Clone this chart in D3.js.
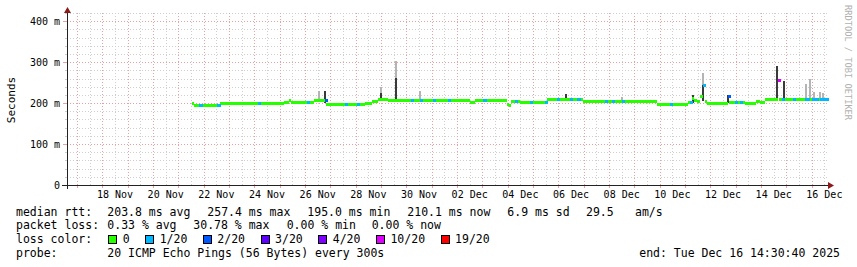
<html>
<head>
<meta charset="utf-8">
<title>smokeping - last 30 days</title>
<style>
  body { margin: 0; background: #fff; }
  svg text { font-family: "DejaVu Sans Mono", monospace; fill: #000; }
</style>
</head>
<body>
<div id="chart"></div>
<script src="https://d3js.org/d3.v7.min.js"></script>
<script>
// ---- data ----
var startTime = "2025-11-16 14:30:40";
var endTime = "2025-12-16 14:30:40";

// median rtt (ms), value holds from each time until the next one
var medianTimes = ["2025-11-21 13:00", "2025-11-21 15:00", "2025-11-22 15:30", "2025-11-25 04:00",
    "2025-11-25 09:00", "2025-11-25 11:00", "2025-11-26 08:30", "2025-11-26 20:00", "2025-11-27 12:00",
    "2025-11-28 09:00", "2025-11-28 15:30", "2025-11-28 21:00", "2025-11-29 07:00", "2025-12-02 12:00",
    "2025-12-02 17:00", "2025-12-03 23:00", "2025-12-04 01:00", "2025-12-04 03:00", "2025-12-04 12:00",
    "2025-12-05 13:00", "2025-12-06 23:00", "2025-12-09 21:30", "2025-12-11 03:00", "2025-12-11 06:30",
    "2025-12-11 08:30", "2025-12-11 11:30", "2025-12-11 14:00", "2025-12-11 17:00", "2025-12-11 19:00",
    "2025-12-11 21:00", "2025-12-12 17:00", "2025-12-12 18:00", "2025-12-13 09:00", "2025-12-13 19:00",
    "2025-12-13 23:00", "2025-12-14 04:00", "2025-12-14 16:00", "2025-12-14 17:00", "2025-12-16 14:30"];
var medianValues = [200, 195, 199, 201, 207, 201, 206, 196, 197.5, 200, 204, 210, 206, 201, 206, 197, 195,
    203, 201, 210, 203, 197, 201, 212, 207, 203, 215, 242, 204, 199, 217, 201, 198, 205, 202, 210, 254, 210, 210];

// samples with packet loss (pings lost out of 20)
var lossTimes = ["2025-11-21 20:00", "2025-11-22 13:00", "2025-11-24 03:00", "2025-11-26 02:00",
    "2025-11-26 19:00", "2025-11-27 14:00", "2025-11-28 01:00", "2025-11-30 04:00", "2025-11-30 13:00",
    "2025-12-01 01:00", "2025-12-01 15:00", "2025-12-03 01:00", "2025-12-04 07:00", "2025-12-04 21:00",
    "2025-12-05 11:00", "2025-12-05 23:00", "2025-12-06 11:00", "2025-12-06 18:00", "2025-12-07 20:00",
    "2025-12-08 03:00", "2025-12-08 12:00", "2025-12-10 10:00", "2025-12-11 05:00", "2025-12-11 17:00",
    "2025-12-12 17:00", "2025-12-12 23:00", "2025-12-13 04:00", "2025-12-14 16:00", "2025-12-14 20:00",
    "2025-12-15 06:00", "2025-12-15 18:00", "2025-12-15 19:00", "2025-12-16 00:00", "2025-12-16 03:00",
    "2025-12-16 04:00", "2025-12-16 08:00", "2025-12-16 09:00", "2025-12-16 10:00", "2025-12-16 12:00",
    "2025-12-16 13:00"];
var lossCounts = [1, 1, 1, 1, 2, 1, 1, 1, 1, 1, 1, 1, 1, 1, 1, 1, 1, 1, 1, 1, 1, 1, 1, 1, 2, 1, 1, 10, 1,
    1, 1, 1, 1, 1, 1, 1, 1, 1, 1, 1];

// smoke: spread of the single pings (ms); dense part low..mid, thin part mid..high
var smokeTimes = ["2025-11-26 13:00", "2025-11-26 19:00", "2025-11-29 00:00", "2025-11-29 14:00",
    "2025-11-30 13:00", "2025-12-06 07:00", "2025-12-08 12:00", "2025-12-11 08:00", "2025-12-11 17:00",
    "2025-12-12 17:00", "2025-12-14 15:00", "2025-12-14 22:00", "2025-12-15 19:00", "2025-12-15 22:00",
    "2025-12-16 02:00", "2025-12-16 08:00", "2025-12-16 11:00"];
var smokeLow = [205, 200, 206, 206, 206, 210, 203, 201, 205, 201, 210, 210, 210, 210, 210, 210, 210];
var smokeMid = [205, 229, 225, 262, 206, 222, 203, 220, 245, 220, 290, 254, 210, 210, 210, 210, 210];
var smokeHigh = [229, 229, 240, 302, 229, 222, 215, 220, 273, 220, 290, 254, 246, 259, 228, 227, 224];

// legend
var lossLevels = ["0", "1/20", "2/20", "3/20", "4/20", "10/20", "19/20"];
var lossColors = ["#26ff00", "#00b8ff", "#0059ff", "#5e00ff", "#7e00ff", "#dd00ff", "#ff0000"];

var yTickValues = [0, 100, 200, 300, 400];
var yTickLabels = ["0", "100 m", "200 m", "300 m", "400 m"];
var xTickLabels = ["18 Nov", "20 Nov", "22 Nov", "24 Nov", "26 Nov", "28 Nov", "30 Nov", "02 Dec",
    "04 Dec", "06 Dec", "08 Dec", "10 Dec", "12 Dec", "14 Dec", "16 Dec"];

// ---- drawing ----
var svg = d3.select("#chart").append("svg")
    .attr("width", 857)
    .attr("height", 267)
    .style("background", "#fff");

var parseTime = d3.timeParse("%Y-%m-%d %H:%M");
var parseFull = d3.timeParse("%Y-%m-%d %H:%M:%S");

var x = d3.scaleTime()
    .domain([parseFull(startTime), parseFull(endTime)])
    .range([67, 827]);
var y = d3.scaleLinear()
    .domain([0, 420])
    .range([185, 13]);

var lossColor = d3.scaleThreshold()
    .domain([1, 2, 3, 4, 10, 19])
    .range(lossColors);

var minorCol = "#cfcfcf", majorCol = "#eea0a0";
var grid = svg.append("g").attr("shape-rendering", "crispEdges");

// minor grid
d3.timeHour.every(12).range(x.domain()[0], x.domain()[1]).forEach(function (d) {
    grid.append("line").attr("x1", Math.round(x(d)) + 0.5).attr("x2", Math.round(x(d)) + 0.5)
        .attr("y1", y(0)).attr("y2", y(420))
        .attr("stroke", minorCol).attr("stroke-dasharray", "1,2");
});
d3.range(20, 421, 20).forEach(function (v) {
    grid.append("line").attr("x1", x.range()[0]).attr("x2", x.range()[1])
        .attr("y1", Math.round(y(v)) + 0.5).attr("y2", Math.round(y(v)) + 0.5)
        .attr("stroke", minorCol).attr("stroke-dasharray", "1,2");
    grid.append("line").attr("x1", x.range()[0] - 2).attr("x2", x.range()[0])
        .attr("y1", Math.round(y(v)) + 0.5).attr("y2", Math.round(y(v)) + 0.5)
        .attr("stroke", minorCol);
});

// major grid
d3.timeDay.range(x.domain()[0], x.domain()[1]).forEach(function (d) {
    grid.append("line").attr("x1", Math.round(x(d)) + 0.5).attr("x2", Math.round(x(d)) + 0.5)
        .attr("y1", y(0)).attr("y2", y(420))
        .attr("stroke", majorCol).attr("stroke-dasharray", "1,2");
    grid.append("line").attr("x1", Math.round(x(d)) + 0.5).attr("x2", Math.round(x(d)) + 0.5)
        .attr("y1", y(0)).attr("y2", y(0) + 3)
        .attr("stroke", majorCol);
});
yTickValues.slice(1).forEach(function (v) {
    grid.append("line").attr("x1", x.range()[0]).attr("x2", x.range()[1])
        .attr("y1", Math.round(y(v)) + 0.5).attr("y2", Math.round(y(v)) + 0.5)
        .attr("stroke", majorCol).attr("stroke-dasharray", "1,2");
    grid.append("line").attr("x1", x.range()[0] - 4).attr("x2", x.range()[0])
        .attr("y1", Math.round(y(v)) + 0.5).attr("y2", Math.round(y(v)) + 0.5)
        .attr("stroke", majorCol);
});

// smoke
var smoke = svg.append("g").attr("shape-rendering", "crispEdges");
smokeTimes.forEach(function (t, i) {
    var cx = Math.round(x(parseTime(t)));
    smoke.append("rect")
        .attr("x", cx - 1).attr("width", 2)
        .attr("y", y(smokeHigh[i])).attr("height", y(smokeLow[i]) - y(smokeHigh[i]))
        .attr("fill", "#b4b4b4");
    smoke.append("rect")
        .attr("x", cx - 1).attr("width", 2)
        .attr("y", y(smokeMid[i])).attr("height", y(smokeLow[i]) - y(smokeMid[i]))
        .attr("fill", "#3a3a3a");
});

// median band: one piece per step, no vertical joins (like rrdtool's stacked area)
var medData = medianTimes.map(function (t, i) {
    return { t: parseTime(t), v: medianValues[i] };
});
var steps = medData.slice(0, -1).map(function (d, i) {
    return { t0: d.t, t1: medData[i + 1].t, v: d.v };
});
svg.append("g")
    .attr("shape-rendering", "crispEdges")
    .selectAll("rect")
    .data(steps)
    .enter().append("rect")
    .attr("x", function (d) { return x(d.t0); })
    .attr("width", function (d) { return Math.max(1, x(d.t1) - x(d.t0)); })
    .attr("y", function (d) { return y(d.v) - 1.5; })
    .attr("height", 3)
    .attr("fill", lossColor(0));

// loss coloured pieces of the median
var bis = d3.bisector(function (d) { return d.t; }).right;
lossTimes.forEach(function (t, i) {
    var d = parseTime(t);
    var m = medData[Math.max(0, bis(medData, d) - 1)].v;
    var x0 = x(d), x1 = x(d3.timeHour.offset(d, 3));
    svg.append("rect")
        .attr("x", x0).attr("width", x1 - x0)
        .attr("y", y(m) - 1.5).attr("height", 3)
        .attr("fill", lossColor(lossCounts[i]))
        .attr("shape-rendering", "crispEdges");
});

// axes
var axisCol = "#222", arrowCol = "#8b1a1a";
svg.append("line").attr("x1", x.range()[0] - 5).attr("x2", 829)
    .attr("y1", y(0) + 0.5).attr("y2", y(0) + 0.5).attr("stroke", axisCol);
svg.append("line").attr("x1", x.range()[0] + 0.5).attr("x2", x.range()[0] + 0.5)
    .attr("y1", y(0) + 4).attr("y2", 11).attr("stroke", axisCol);
svg.append("path").attr("d", "M828,182 L834,185.5 L828,189 Z").attr("fill", arrowCol);
svg.append("path").attr("d", "M64,13 L67.5,7 L71,13 Z").attr("fill", arrowCol);

// tick labels
svg.append("g").selectAll("text")
    .data(yTickValues)
    .enter().append("text")
    .attr("x", 60)
    .attr("y", function (d) { return y(d) + 3.5; })
    .attr("text-anchor", "end")
    .style("font-size", "10px")
    .text(function (d, i) { return yTickLabels[i]; });

var parseLabel = d3.timeParse("%d %b %Y %H");
svg.append("g").selectAll("text")
    .data(xTickLabels)
    .enter().append("text")
    .attr("x", function (d) {
        var dt = parseLabel(d + " 2025 12");
        return x(dt);
    })
    .attr("y", 198)
    .attr("text-anchor", "middle")
    .style("font-size", "10px")
    .text(function (d) { return d; });

svg.append("text")
    .attr("transform", "translate(15,100) rotate(-90)")
    .attr("text-anchor", "middle")
    .style("font-size", "11px")
    .text("Seconds");

svg.append("text")
    .attr("transform", "translate(845,5) rotate(90)")
    .style("font-size", "8.7px")
    .style("fill", "#b0b0b0")
    .text("RRDTOOL / TOBI OETIKER");

// legend
var legendFont = "11.5px";
function legendText(xp, yp, s, anchor) {
    return svg.append("text")
        .attr("x", xp).attr("y", yp)
        .attr("text-anchor", anchor || "start")
        .style("font-size", legendFont)
        .attr("xml:space", "preserve")
        .text(s);
}

var row1 = 215.5, row2 = 229, row3 = 243, row4 = 256.5;
legendText(16, row1, "median rtt:");
legendText(107.3, row1, "203.8 ms avg");
legendText(207.3, row1, "257.4 ms max");
legendText(307.3, row1, "195.0 ms min");
legendText(407.3, row1, "210.1 ms now");
legendText(507.3, row1, "6.9 ms sd");
legendText(586, row1, "29.5");
legendText(635, row1, "am/s");

legendText(16, row2, "packet loss:");
legendText(107.3, row2, "0.33 % avg");
legendText(193.3, row2, "30.78 % max");
legendText(286.7, row2, "0.00 % min");
legendText(371.7, row2, "0.00 % now");

legendText(16, row3, "loss color:");
var cursor = 108.3;
lossLevels.forEach(function (lab, i) {
    svg.append("rect")
        .attr("x", Math.round(cursor) + 0.5).attr("y", 235.5)
        .attr("width", 8).attr("height", 8)
        .attr("fill", lossColors[i])
        .attr("stroke", "#000")
        .attr("shape-rendering", "crispEdges");
    var t = legendText(cursor + 14.4, row3, lab);
    cursor = cursor + 14.4 + t.node().getComputedTextLength() + 15.6;
});

legendText(16, row4, "probe:");
legendText(107.3, row4, "20 ICMP Echo Pings (56 Bytes) every 300s");
legendText(840, row4, "end: Tue Dec 16 14:30:40 2025", "end");
</script>
</body>
</html>
